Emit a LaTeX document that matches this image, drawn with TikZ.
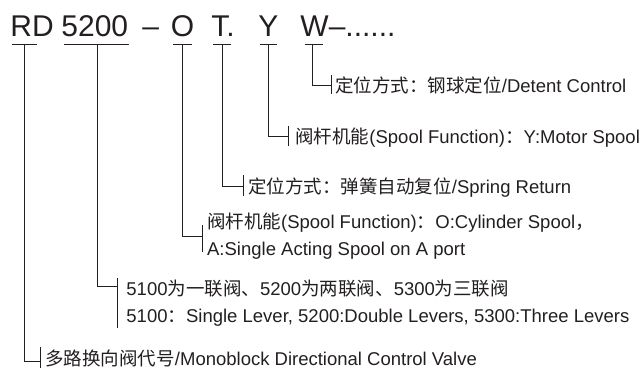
\documentclass[tikz,border=0pt]{standalone}
\usepackage{fontspec}
\setmainfont{Liberation Sans}
\newfontfamily\cjk{Noto Sans CJK SC}
\definecolor{ink}{RGB}{35,31,32}

\begin{document}
\begin{tikzpicture}[x = 1pt, y = -1pt, line width = 0.9pt, draw = ink,
    every node/.style = {inner sep = 0pt, text = ink},
    code/.style = {anchor = base west, font = \fontsize{30}{30}\selectfont},
    info/.style = {anchor = base west, align = left, font = \fontsize{18.5}{26.5}\selectfont}]
    \useasboundingbox (0,0) rectangle (644,368);

    % model code
    \node[code] (rd)   at (10, 36.7)  {RD};
    \node[code] (num)  at (61, 36.7)  {5200};
    \node[code] (dash) at (142, 36.7) {–};
    \node[code] (o)    at (170.3, 36.7) {O};
    \node[code] (t)    at (211, 36.7) {T.};
    \node[code] (y)    at (258, 36.7) {Y};
    \node[code] (w)    at (300, 36.7) {W–......};

    % underline stems
    \coordinate (rd-u)  at (24.5, 44.5);
    \coordinate (num-u) at (97, 44.5);
    \coordinate (o-u)   at (182.5, 44.5);
    \coordinate (t-u)   at (222, 44.5);
    \coordinate (y-u)   at (268.5, 44.5);
    \coordinate (w-u)   at (312, 44.5);

    \draw ([xshift = -12.5]rd-u) -- ([xshift = 12.5]rd-u);
    \draw ([xshift = -33]num-u) -- ([xshift = 32]num-u);
    \draw ([xshift = -9.5]o-u) -- ([xshift = 9.5]o-u);
    \draw ([xshift = -9]t-u) -- ([xshift = 8.5]t-u);
    \draw ([xshift = -8.5]y-u) -- ([xshift = 8.5]y-u);
    \draw ([xshift = -7]w-u) -- ([xshift = 11]w-u);

    % ticks in front of the texts
    \coordinate (w-k)   at (331, 85);
    \coordinate (y-k)   at (288.5, 136);
    \coordinate (t-k)   at (243, 186.5);
    \coordinate (o-k)   at (202.7, 236);
    \coordinate (num-k) at (117, 286.3);
    \coordinate (rd-k)  at (40, 361.3);

    % texts (base = last line)
    \node[info] (w-l)   at (335, 92.7)  {{\cjk 定位方式：钢球定位}/Detent Control};
    \node[info] (y-l)   at (295, 143.7) {{\cjk 阀杆机能}(Spool Function){\cjk ：}Y:Motor Spool};
    \node[info] (t-l)   at (248, 193)   {{\cjk 定位方式：弹簧自动复位}/Spring Return};
    \node[info] (o-l)   at (206.7, 255) {{\cjk 阀杆机能}(Spool Function){\cjk ：}O:Cylinder Spool{\cjk ，}\\A:Single Acting Spool on A port};
    \node[info] (num-l) at (126, 322)   {5100{\cjk 为一联阀、}5200{\cjk 为两联阀、}5300{\cjk 为三联阀}\\5100{\cjk ：}Single Lever, 5200:Double Levers, 5300:Three Levers};
    \node[info] (rd-l)  at (45, 365.4)  {{\cjk 多路换向阀代号}/Monoblock Directional Control Valve};

    % connectors
    \draw (w-u) |- (w-k);
    \draw ([yshift = 10]w-k) -- ([yshift = -9]w-k);
    \draw (y-u) |- (y-k);
    \draw ([yshift = 10]y-k) -- ([yshift = -10]y-k);
    \draw (t-u) |- (t-k);
    \draw ([yshift = 11.5]t-k) -- ([yshift = -9.5]t-k);
    \draw (o-u) |- (o-k);
    \draw ([yshift = 11]o-k) -- ([yshift = -16]o-k);
    \draw (num-u) |- (num-k);
    \draw ([yshift = 8]num-k) -- ([yshift = -42]num-k);
    \draw (rd-u) |- (rd-k);
    \draw ([yshift = 14]rd-k) -- ([yshift = -7]rd-k);
\end{tikzpicture}
\end{document}
